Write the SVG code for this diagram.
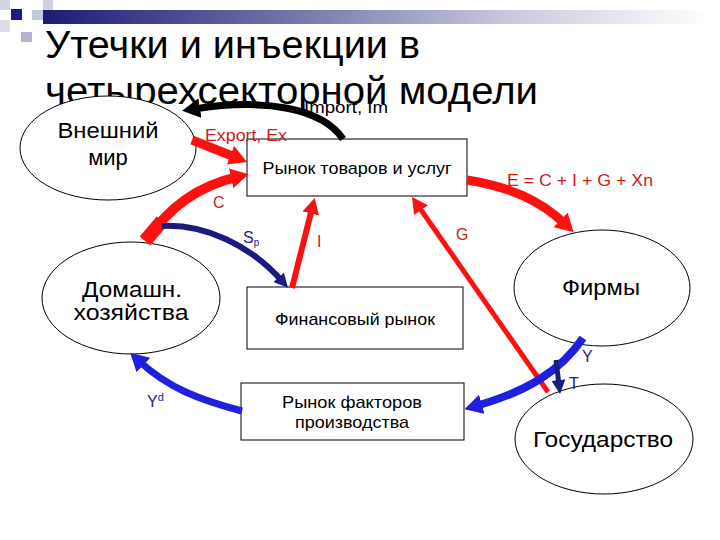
<svg xmlns="http://www.w3.org/2000/svg" width="720" height="540" viewBox="0 0 720 540">
<defs>
<linearGradient id="bar" x1="45" y1="0" x2="710" y2="0" gradientUnits="userSpaceOnUse">
<stop offset="0" stop-color="#1c1c76"/>
<stop offset="0.35" stop-color="#6f6fa6"/>
<stop offset="0.7" stop-color="#c9c9de"/>
<stop offset="1" stop-color="#ffffff"/>
</linearGradient>
<marker id="hRed" markerUnits="userSpaceOnUse" markerWidth="18" markerHeight="20" refX="6" refY="10" orient="auto"><path d="M0,0 L18,10 L0,20 z" fill="#ff1010"/></marker>
<marker id="hRedM" markerUnits="userSpaceOnUse" markerWidth="16" markerHeight="17" refX="5" refY="8.5" orient="auto"><path d="M0,0 L16,8.5 L0,17 z" fill="#ff1010"/></marker>
<marker id="hBlack" markerUnits="userSpaceOnUse" markerWidth="18" markerHeight="20" refX="6" refY="10" orient="auto"><path d="M0,0 L18,10 L0,20 z" fill="#000"/></marker>
<marker id="hBlue" markerUnits="userSpaceOnUse" markerWidth="18" markerHeight="20" refX="6" refY="10" orient="auto"><path d="M0,0 L18,10 L0,20 z" fill="#1f1fe0"/></marker>
<marker id="hNavy" markerUnits="userSpaceOnUse" markerWidth="14" markerHeight="14" refX="5" refY="7" orient="auto"><path d="M0,0 L14,7 L0,14 z" fill="#1a1a80"/></marker>
</defs>
<style>
text{font-family:"Liberation Sans",Arial,sans-serif}
.title{font-size:38px;fill:#000}
.nodeE{fill:#fff;stroke:#000;stroke-width:1}
.box{fill:#fff;stroke:#000;stroke-width:1}
.big{font-size:22px;fill:#000;text-anchor:middle}
.mid{font-size:17px;fill:#000;text-anchor:middle}
.lblR{font-size:16px;fill:#cc1a1a}
.lblB{font-size:16px;fill:#1a1a90}
.red{fill:none;stroke:#ff1010}
.blue{fill:none;stroke:#1f1fe0}
.navy{fill:none;stroke:#1a1a80}
</style>
<rect width="720" height="540" fill="#fff"/>
<g id="decor">
<rect x="43" y="10" width="667" height="14" fill="url(#bar)"/>
<rect x="0" y="0" width="10" height="10" fill="#d4d4e4"/>
<rect x="43" y="0" width="10" height="10" fill="#d0d0e2"/>
<rect x="32" y="10" width="11" height="10" fill="#c8c8dc"/>
<rect x="11" y="9" width="11" height="11" fill="#1a1a8c"/>
<rect x="0" y="20" width="10" height="12" fill="#dcdcea"/>
<rect x="21" y="32" width="11" height="10" fill="#b4b4d0"/>
</g>
<g id="title">
<text class="title" x="45" y="58" textLength="375" lengthAdjust="spacingAndGlyphs">Утечки и инъекции в</text>
<text class="title" x="45" y="104" textLength="493" lengthAdjust="spacingAndGlyphs">четырехсекторной модели</text>
</g>
<g id="vneshniy">
<ellipse class="nodeE" cx="108" cy="148" rx="88" ry="52"/>
<text class="big" x="108" y="138" textLength="101" lengthAdjust="spacingAndGlyphs">Внешний</text>
<text class="big" x="108" y="165">мир</text>
</g>
<g id="domashn">
<ellipse class="nodeE" cx="131" cy="298" rx="89" ry="56"/>
<text class="big" x="132" y="297" textLength="100" lengthAdjust="spacingAndGlyphs">Домашн.</text>
<text class="big" x="131" y="320" textLength="115" lengthAdjust="spacingAndGlyphs">хозяйства</text>
</g>
<g id="firmy">
<ellipse class="nodeE" cx="602" cy="288" rx="88" ry="58"/>
<text class="big" x="601" y="295" textLength="78" lengthAdjust="spacingAndGlyphs">Фирмы</text>
</g>
<g id="gosudarstvo">
<ellipse class="nodeE" cx="604" cy="439" rx="89" ry="55"/>
<text class="big" x="603" y="447" textLength="140" lengthAdjust="spacingAndGlyphs">Государство</text>
</g>
<g id="rynok-tovarov">
<rect class="box" x="247" y="139" width="220" height="57"/>
<text class="mid" x="357" y="174" textLength="189" lengthAdjust="spacingAndGlyphs">Рынок товаров и услуг</text>
</g>
<g id="fin-rynok">
<rect class="box" x="247" y="287" width="216" height="62"/>
<text class="mid" x="355" y="325" textLength="160" lengthAdjust="spacingAndGlyphs">Финансовый рынок</text>
</g>
<g id="rynok-faktorov">
<rect class="box" x="241" y="383" width="223" height="57"/>
<text class="mid" x="352" y="408" textLength="140" lengthAdjust="spacingAndGlyphs">Рынок факторов</text>
<text class="mid" x="352" y="428" textLength="114" lengthAdjust="spacingAndGlyphs">производства</text>
</g>
<g id="connectors">
<path d="M343,139 C322,108 265,98 194,109" fill="none" stroke="#000" stroke-width="7" marker-end="url(#hBlack)"/>
<path class="red" d="M192,140 L236,157.5" stroke-width="9" marker-end="url(#hRed)"/>
<path class="red" d="M147,240 Q180,190 237,177" stroke-width="10" marker-end="url(#hRed)"/>
<path class="red" d="M145,241 L162,221" stroke-width="14"/>
<path class="navy" d="M162,226 C205,224 250,245 282,281" stroke-width="6" marker-end="url(#hNavy)"/>
<path class="red" d="M292,288 L312,208.6" stroke-width="6" marker-end="url(#hRedM)"/>
<path class="red" d="M548,392 L418.3,206" stroke-width="5" marker-end="url(#hRedM)"/>
<path class="red" d="M467,180 C510,187 540,200 565,224" stroke-width="9" marker-end="url(#hRed)"/>
<path class="blue" d="M583,338 C560,372 525,392 476,406" stroke-width="8" marker-end="url(#hBlue)"/>
<path class="blue" d="M242,411 C200,400 168,388 139,361" stroke-width="7" marker-end="url(#hBlue)"/>
<path class="navy" d="M556,360 L559,385" stroke-width="5" marker-end="url(#hNavy)"/>
</g>
<g id="labels">
<text x="304" y="113" font-size="16" fill="#000" textLength="84" lengthAdjust="spacingAndGlyphs">Import, Im</text>
<text class="lblR" x="205" y="141" textLength="82" lengthAdjust="spacingAndGlyphs">Export, Ex</text>
<text class="lblR" x="507" y="186" textLength="146" lengthAdjust="spacingAndGlyphs">E = C + I + G + Xn</text>
<text class="lblR" x="213" y="208">C</text>
<text class="lblR" x="317" y="247">I</text>
<text class="lblR" x="456" y="240">G</text>
<text class="lblB" x="243" y="243">S<tspan font-size="10" dy="3">p</tspan></text>
<text class="lblB" x="582" y="362">Y</text>
<text class="lblB" x="569" y="389">T</text>
<text class="lblB" x="147" y="407">Y<tspan font-size="11" dy="-6">d</tspan></text>
</g>
</svg>
